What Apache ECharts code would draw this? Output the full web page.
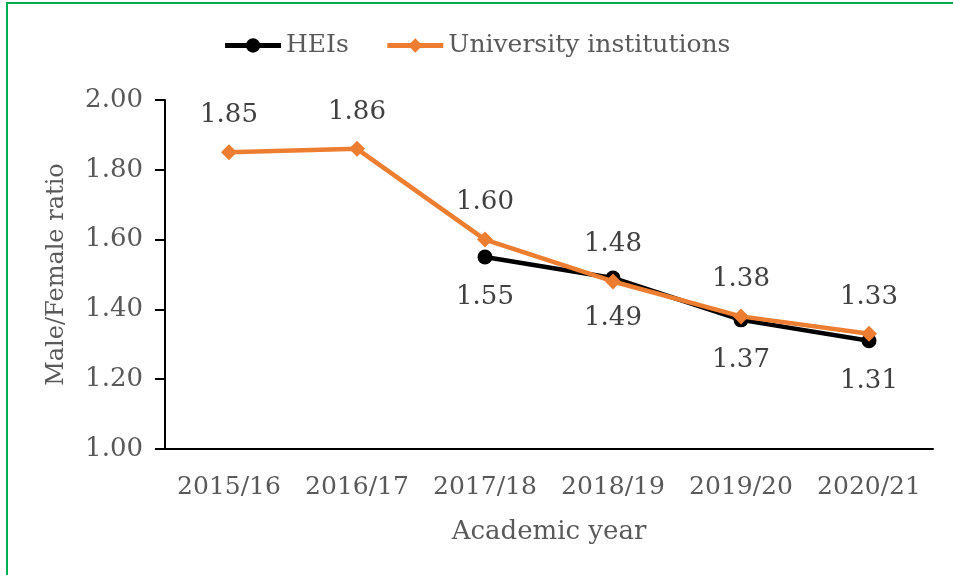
<!DOCTYPE html>
<html>
<head>
<meta charset="utf-8">
<script src="https://cdn.jsdelivr.net/npm/echarts@6/dist/echarts.min.js"></script>
<style>
  html, body { margin: 0; padding: 0; background: #fff; overflow: hidden; }
  #frame { position: absolute; left: 6px; top: 2px; width: 1000px; height: 700px; border: 2px solid #00b050; box-sizing: border-box; }
  #main { position: absolute; left: 0; top: 0; width: 953px; height: 575px; }
</style>
</head>
<body>
<div id="frame"></div>
<div id="main"></div>
<script>
var years = ['2015/16', '2016/17', '2017/18', '2018/19', '2019/20', '2020/21'];
var heis = [null, null, 1.55, 1.49, 1.37, 1.31];
var university = [1.85, 1.86, 1.60, 1.48, 1.38, 1.33];
var yTicks = [1.00, 1.20, 1.40, 1.60, 1.80, 2.00];

var font = 'DejaVu Serif';
var myChart = echarts.init(document.getElementById('main'));

var option = {
    animation: false,
    textStyle: { fontFamily: font },
    legend: {
        top: 28,
        left: 'center',
        itemGap: 36,
        itemWidth: 56,
        itemHeight: 18,
        lineStyle: { width: 5 },
        textStyle: { fontFamily: font, fontSize: 25, color: '#595959' },
        data: ['HEIs', 'University institutions']
    },
    grid: { left: 165, right: 20, top: 100, bottom: 126 },
    xAxis: {
        type: 'category',
        data: years,
        name: 'Academic year',
        nameLocation: 'middle',
        nameGap: 70,
        nameTextStyle: { fontFamily: font, fontSize: 26, color: '#595959' },
        axisLine: { lineStyle: { color: '#000', width: 2 } },
        axisTick: { show: false },
        axisLabel: { interval: 0, fontFamily: font, fontSize: 25, color: '#595959', margin: 26 }
    },
    yAxis: {
        type: 'value',
        min: yTicks[0],
        max: yTicks[yTicks.length - 1],
        interval: 0.2,
        name: 'Male/Female ratio',
        nameLocation: 'middle',
        nameGap: 96,
        nameTextStyle: { fontFamily: font, fontSize: 24, color: '#595959' },
        splitLine: { show: false },
        axisLine: { show: true, lineStyle: { color: '#000', width: 2 } },
        axisTick: { show: true, inside: false, length: 10, lineStyle: { color: '#000', width: 2 } },
        axisLabel: {
            fontFamily: font, fontSize: 26, color: '#595959', margin: 22,
            formatter: function (v) { return v.toFixed(2); }
        }
    },
    series: [{
        name: 'HEIs',
        type: 'line',
        data: heis,
        symbol: 'circle',
        symbolSize: 15,
        lineStyle: { color: '#000', width: 4.5 },
        itemStyle: { color: '#000' },
        label: {
            show: true,
            position: 'bottom',
            distance: 20,
            fontFamily: font, fontSize: 26, color: '#404040',
            formatter: function (p) { return p.value.toFixed(2); }
        },
        z: 2
    }, {
        name: 'University institutions',
        type: 'line',
        data: university,
        symbol: 'diamond',
        symbolSize: 16,
        lineStyle: { color: '#ED7D31', width: 4.5 },
        itemStyle: { color: '#ED7D31' },
        label: {
            show: true,
            position: 'top',
            distance: 16,
            fontFamily: font, fontSize: 26, color: '#404040',
            formatter: function (p) { return p.value.toFixed(2); }
        },
        z: 3
    }]
};

myChart.setOption(option);
</script>
</body>
</html>
